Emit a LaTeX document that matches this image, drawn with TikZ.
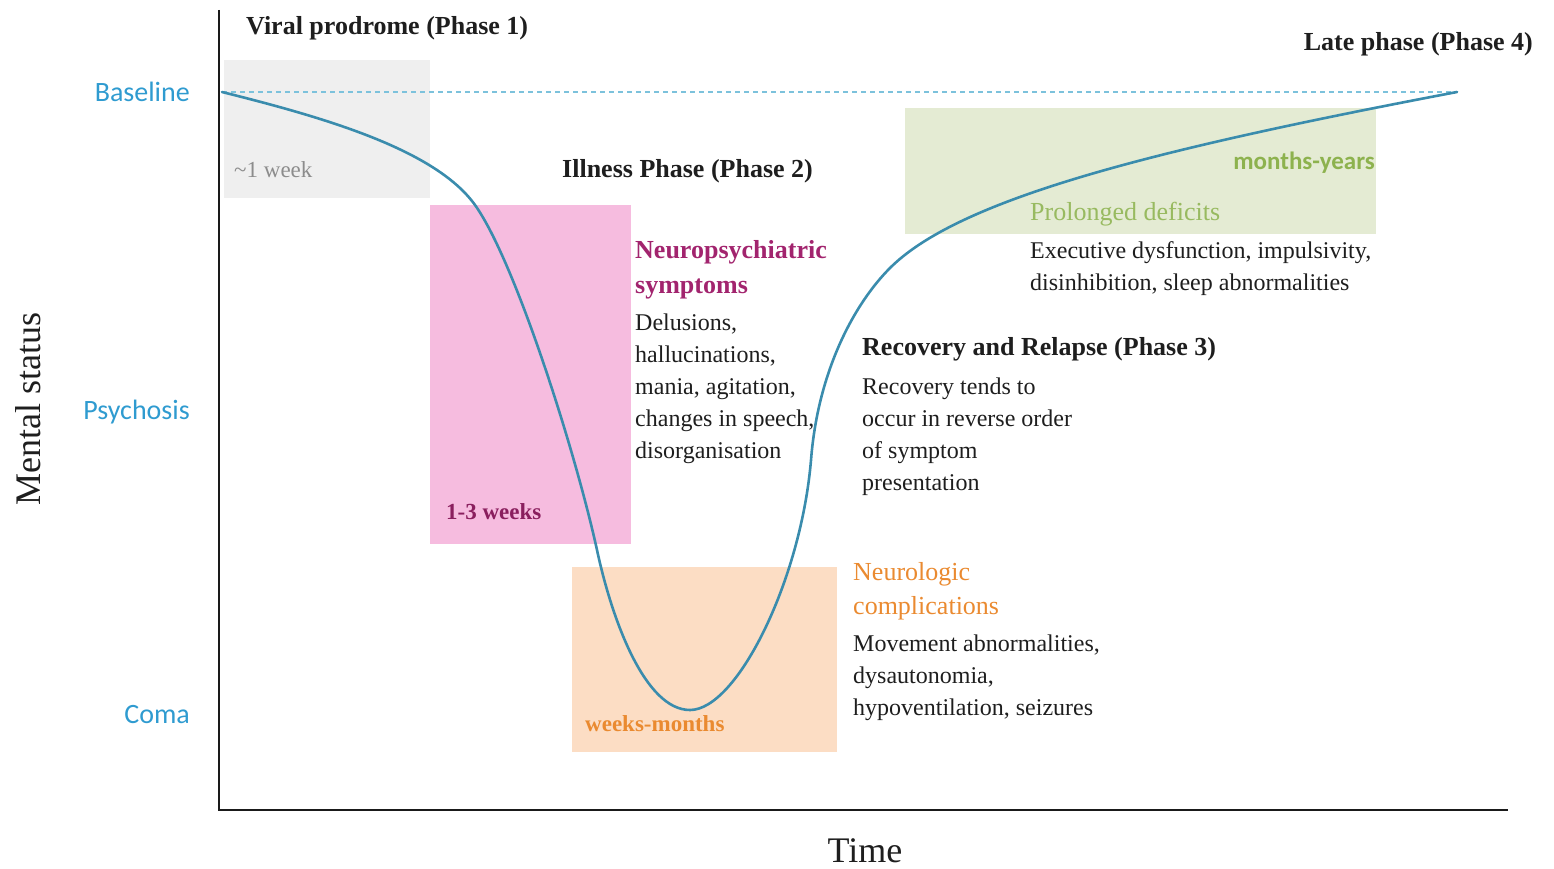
\documentclass[tikz,border=0pt]{standalone}
\usepackage{fontspec}
\setmainfont{Liberation Serif}
\newfontfamily\lvlfont{Carlito}
\usepackage{xcolor}
\definecolor{NearBlack}{HTML}{1E1E1E}
\definecolor{AxisBlack}{HTML}{1A1A1A}
\definecolor{CurveBlue}{HTML}{3A8CAD}
\definecolor{DashBlue}{HTML}{7CC2DC}
\definecolor{LevelBlue}{HTML}{2F9BD0}
\definecolor{GrayBg}{HTML}{EFEFEF}
\definecolor{PinkBg}{HTML}{F6BCDF}
\definecolor{PeachBg}{HTML}{FCDDC4}
\definecolor{GreenBg}{HTML}{E4EBD3}
\definecolor{GrayTxt}{HTML}{8C8C8C}
\definecolor{PlumTxt}{HTML}{A2246E}
\definecolor{OrangeTxt}{HTML}{EA8A30}
\definecolor{GreenTxt}{HTML}{8DB24E}
\usetikzlibrary{positioning}
\tikzset{
  phase/.style={font=\fontsize{26}{30}\selectfont\bfseries,text=NearBlack,inner sep=0pt},
  head/.style={font=\fontsize{26}{35}\selectfont\bfseries,align=left,inner sep=0pt,anchor=north west},
  body/.style={font=\fontsize{24}{32}\selectfont,text=NearBlack,align=left,inner sep=0pt,anchor=north west},
  dur/.style={font=\fontsize{23}{28}\selectfont\bfseries,inner sep=0pt,anchor=west},
  level/.style={font=\lvlfont\fontsize{28}{32}\selectfont,text=LevelBlue,anchor=east,inner sep=0pt},
  axtitle/.style={font=\fontsize{36}{40}\selectfont,text=NearBlack,inner sep=0pt},
  axis/.style={draw=AxisBlack,line width=2.6pt},
  course/.style={draw=CurveBlue,line width=2.6pt,line cap=round},
  baseln/.style={draw=DashBlue,line width=1.6pt,dash pattern=on 5pt off 4pt},
}

\begin{document}
\begin{tikzpicture}[x=1pt,y=-1pt]
\useasboundingbox (0,0) rectangle (1554,869);

% shaded phase windows
\fill[GrayBg]  (224,60)  rectangle (430,198);
\fill[PinkBg]  (430,205) rectangle (631,544);
\fill[PeachBg] (572,567) rectangle (837,752);
\fill[GreenBg] (905,108) rectangle (1376,234);

% axes
\draw[axis] (219,10) -- (219,810) -- (1508,810);
\node[axtitle] (time) at (865,851) {Time};
\node[axtitle,rotate=90] (mstat) at (28,409) {Mental status};

% levels
\node[level] (lbase) at (190,92)  {Baseline};
\node[level] (lpsy)  at (190,412) {Psychosis};
\node[level] (lcoma) at (190,715) {Coma};
\draw[baseln] (222,92) -- (1458,92);

% course of illness
\draw[course] (222,92) .. controls (322,117) and (435,149) .. (475,205)
  .. controls (515,261) and (575,450) .. (597,550)
  .. controls (612,620) and (645,710) .. (690,710)
  .. controls (737,710) and (801,580) .. (811,460)
  .. controls (818,370) and (855,303) .. (890,268)
  .. controls (960,198) and (1157,149) .. (1457,92);

% phase 1
\node[phase,anchor=west] (ph1) at (246,28) {Viral prodrome (Phase 1)};
\node[font=\fontsize{23}{28}\selectfont,text=GrayTxt,inner sep=0pt,anchor=west] (d1) at (234,170) {\textasciitilde1 week};

% phase 2
\node[phase,anchor=west] (ph2) at (562,171) {Illness Phase (Phase 2)};
\node[dur,text=PlumTxt!85!black] (d2) at (446,512) {1-3 weeks};
\node[head,text=PlumTxt] (nps) at (635,240) {Neuropsychiatric\\symptoms};
\node[body] (npsb) at (635,314) {Delusions,\\hallucinations,\\mania, agitation,\\changes in speech,\\disorganisation};
\node[dur,text=OrangeTxt] (d3) at (585,724) {weeks-months};
\node[head,font=\fontsize{26}{34}\selectfont,text=OrangeTxt] (neu) at (853,562) {Neurologic\\complications};
\node[body] (neub) at (853,635) {Movement abnormalities,\\dysautonomia,\\hypoventilation, seizures};

% phase 3
\node[phase,anchor=west] (ph3) at (862,349) {Recovery and Relapse (Phase 3)};
\node[body] (recb) at (862,378) {Recovery tends to\\occur in reverse order\\of symptom\\presentation};

% phase 4
\node[phase,anchor=east] (ph4) at (1533,44) {Late phase (Phase 4)};
\node[font=\lvlfont\fontsize{25}{28}\selectfont\bfseries,text=GreenTxt,inner sep=0pt,anchor=east] (d4) at (1375,163) {months-years};
\node[font=\fontsize{26}{30}\selectfont,text=GreenTxt!90!white,inner sep=0pt,anchor=west] (pdef) at (1030,214) {Prolonged deficits};
\node[body] (pdefb) at (1030,241) {Executive dysfunction, impulsivity,\\disinhibition, sleep abnormalities};
\end{tikzpicture}
\end{document}
